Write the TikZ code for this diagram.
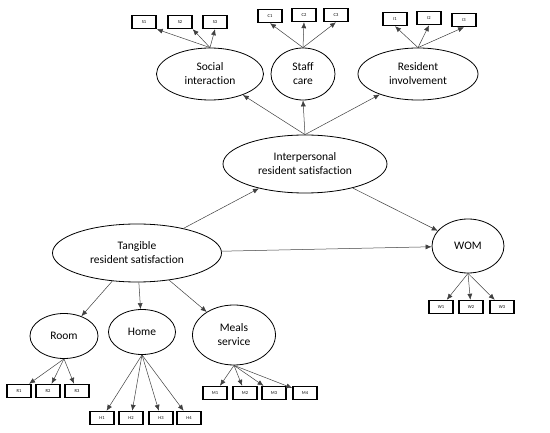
\documentclass[tikz,border=0pt]{standalone}
\usepackage{fontspec}
\setmainfont{Carlito}[Ligatures=NoCommon]
\usetikzlibrary{shapes.geometric,arrows.meta}
\begin{document}
\begin{tikzpicture}[x=1pt,y=-1pt]
\tikzset{latent/.style={draw, thick, ellipse, inner sep=0pt, align=center, font=\fontsize{11.5}{14}\selectfont},
  item/.style={draw, line width=1.4pt, minimum width=24pt, minimum height=13pt, inner sep=0pt, font=\fontsize{4.5}{5}\selectfont},
  fl/.style={-{Latex[length=6pt,width=5pt]}, draw=black!75, line width=0.5pt}}
\useasboundingbox (0,0) rectangle (550,433);
% latent constructs
\node[latent, minimum width=107pt, minimum height=52pt] (SI) at (210,74) {Social\\interaction};
\node[latent, minimum width=64pt, minimum height=52pt] (SC) at (303,74) {Staff\\care};
\node[latent, minimum width=120pt, minimum height=52pt] (RI) at (418,74) {Resident\\involvement};
\node[latent, minimum width=164pt, minimum height=58pt] (IRS) at (305,164) {Interpersonal\\resident satisfaction};
\node[latent, minimum width=169pt, minimum height=58pt] (TRS) at (137,253) {Tangible\\resident satisfaction};
\node[latent, minimum width=72pt, minimum height=54pt] (WOM) at (468,246) {WOM};
\node[latent, minimum width=68pt, minimum height=45pt] (Room) at (64,336) {Room};
\node[latent, minimum width=67pt, minimum height=45pt] (Home) at (142,332) {Home};
\node[latent, minimum width=83pt, minimum height=60pt] (Meals) at (234,335) {Meals\\service};
% items
\node[item] (S1) at (144,22) {S1};
\node[item] (S2) at (180,22) {S2};
\node[item] (S3) at (215,22) {S3};
\node[item] (C1) at (270,16) {C1};
\node[item] (C2) at (304,15) {C2};
\node[item] (C3) at (336,15) {C3};
\node[item] (I1) at (395,19) {I1};
\node[item] (I2) at (429,18) {I2};
\node[item] (I3) at (464,20) {I3};
\node[item] (W1) at (441,307) {W1};
\node[item] (W2) at (471,307) {W2};
\node[item] (W3) at (502,307) {W3};
\node[item] (R1) at (19,391) {R1};
\node[item] (R2) at (48,391) {R2};
\node[item] (R3) at (77,391) {R3};
\node[item] (H1) at (102,418) {H1};
\node[item] (H2) at (131,418) {H2};
\node[item] (H3) at (161,418) {H3};
\node[item] (H4) at (189,418) {H4};
\node[item] (M1) at (215,393) {M1};
\node[item] (M2) at (245,393) {M2};
\node[item] (M3) at (274,393) {M3};
\node[item] (M4) at (305,393) {M4};
% paths
\draw[fl] (SI.north) -- (S1.south east);
\draw[fl] (SI.north) -- (S2.south east);
\draw[fl] (SI.north) -- (S3.south);
\draw[fl] (SC.north) -- (C1.south);
\draw[fl] (SC.north) -- (C2.south);
\draw[fl] (SC.north) -- (C3.south);
\draw[fl] (RI.north) -- (I1.south);
\draw[fl] (RI.north) -- (I2.south);
\draw[fl] (RI.north) -- (I3.south);
\draw[fl] (IRS.north) -- (SI);
\draw[fl] (IRS.north) -- (SC.south);
\draw[fl] (IRS.north) -- (RI);
\draw[fl] (TRS) -- (IRS);
\draw[fl] (IRS) -- (WOM);
\draw[fl] (TRS) -- (WOM);
\draw[fl] (WOM.south) -- (W1);
\draw[fl] (WOM.south) -- (W2);
\draw[fl] (WOM.south) -- (W3);
\draw[fl] (TRS) -- (Room);
\draw[fl] (TRS) -- (Home);
\draw[fl] (TRS) -- (Meals);
\draw[fl] (Room.south) -- (R1);
\draw[fl] (Room.south) -- (R2);
\draw[fl] (Room.south) -- (R3);
\draw[fl] (Home.south) -- (H1);
\draw[fl] (Home.south) -- (H2);
\draw[fl] (Home.south) -- (H3);
\draw[fl] (Home.south) -- (H4);
\draw[fl] (Meals.south) -- (M1);
\draw[fl] (Meals.south) -- (M2);
\draw[fl] (Meals.south) -- (M3);
\draw[fl] (Meals.south) -- (M4);
\end{tikzpicture}
\end{document}
